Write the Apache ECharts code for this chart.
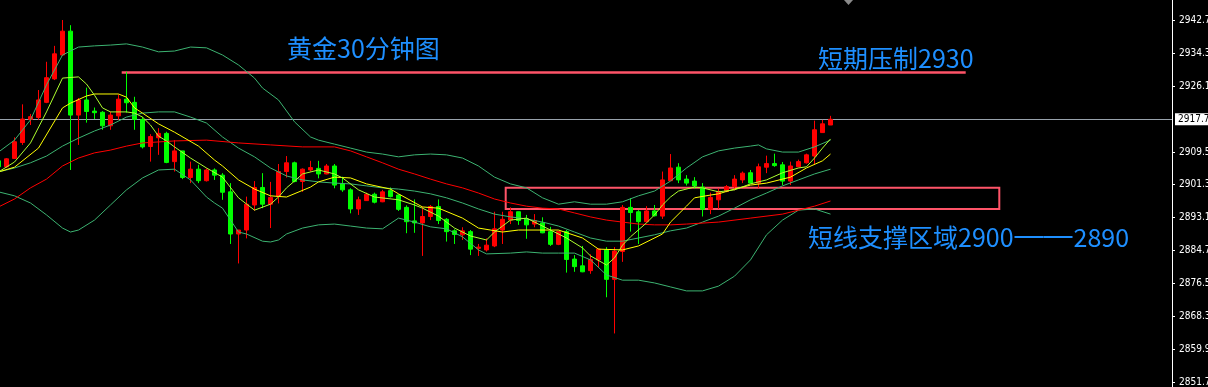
<!DOCTYPE html>
<html><head><meta charset="utf-8">
<script src="https://cdn.jsdelivr.net/npm/echarts@6/dist/echarts.min.js"></script>
<style>html,body{margin:0;padding:0;background:#000;overflow:hidden}#c{width:1208px;height:387px}</style>
</head><body><div id="c"></div>
<script>
// 30-minute gold candles: [open, close, low, high], bar index = position in array
const candles = [
[2907.3,2905.8,2905.5,2907.8],[2905.8,2907.8,2905.5,2908.0],[2907.9,2912.1,2907.8,2913.2],[2911.9,2917.8,2911.3,2921.5],
[2917.7,2918.4,2916.3,2919.1],[2918.2,2922.6,2917.6,2925.1],[2922.0,2928.2,2921.8,2932.2],[2927.9,2934.2,2927.6,2936.2],
[2933.9,2939.9,2933.7,2942.7],[2939.9,2918.8,2905.0,2941.4],[2918.8,2922.6,2911.3,2923.1],[2922.6,2919.7,2916.9,2925.7],
[2919.8,2919.4,2917.8,2920.7],[2919.5,2916.1,2915.1,2919.8],[2916.1,2918.8,2915.1,2919.7],[2918.6,2922.8,2917.6,2924.0],
[2922.8,2921.9,2919.4,2929.7],[2922.0,2917.7,2915.1,2923.4],[2917.7,2910.8,2910.4,2918.3],[2910.9,2913.4,2907.1,2914.0],
[2913.1,2914.2,2908.8,2915.5],[2914.2,2906.9,2906.7,2914.6],[2907.1,2909.8,2904.6,2912.5],[2909.8,2903.1,2902.7,2909.8],
[2903.1,2905.2,2901.7,2907.1],[2905.2,2902.3,2901.7,2906.3],[2902.3,2905.0,2902.1,2905.4],[2905.0,2903.7,2902.5,2905.4],
[2903.7,2899.4,2897.5,2904.2],[2899.5,2888.9,2886.4,2901.7],[2888.9,2889.9,2881.5,2889.9],[2889.9,2896.4,2887.8,2898.3],
[2896.2,2900.6,2894.7,2902.2],[2900.6,2896.4,2895.4,2904.2],[2896.4,2898.1,2890.4,2902.0],[2898.3,2904.6,2896.6,2906.5],
[2904.6,2906.8,2903.1,2908.5],[2906.8,2902.1,2901.9,2907.1],[2902.1,2905.2,2899.5,2905.4],[2905.0,2905.6,2904.6,2907.3],
[2905.4,2904.0,2902.9,2907.3],[2904.0,2906.0,2903.9,2906.5],[2906.0,2901.2,2900.4,2906.5],[2901.5,2900.0,2899.5,2903.3],
[2900.0,2895.2,2894.1,2900.4],[2895.2,2897.5,2893.7,2898.3],[2897.3,2898.9,2897.2,2899.3],[2898.9,2896.9,2896.6,2899.3],
[2897.0,2899.5,2896.9,2900.0],[2899.8,2898.3,2898.1,2900.6],[2898.7,2895.1,2894.7,2898.9],[2895.6,2892.0,2889.1,2896.1],
[2892.2,2891.7,2889.2,2897.6],[2891.7,2893.3,2883.4,2895.8],[2893.3,2895.8,2892.4,2896.2],[2895.8,2892.3,2891.4,2897.6],
[2892.6,2889.5,2887.0,2892.9],[2889.7,2888.8,2886.4,2890.1],[2888.7,2889.7,2887.4,2890.6],[2889.5,2885.1,2883.6,2889.9],
[2885.3,2885.6,2883.4,2886.4],[2884.9,2886.1,2884.5,2887.8],[2885.9,2890.2,2885.6,2894.5],[2889.9,2892.6,2886.4,2894.5],
[2892.4,2894.5,2891.4,2895.6],[2894.5,2892.3,2891.2,2894.5],[2892.7,2891.2,2887.7,2893.7],[2891.4,2892.3,2890.6,2893.9],
[2891.7,2889.2,2889.1,2893.1],[2889.5,2886.3,2885.9,2890.7],[2886.3,2889.5,2886.1,2889.7],[2889.5,2882.5,2879.2,2889.9],
[2882.6,2880.7,2879.4,2883.6],[2880.9,2879.4,2879.3,2885.9],[2879.7,2882.5,2878.9,2883.8],[2882.4,2885.1,2880.5,2885.3],
[2884.9,2877.5,2873.0,2885.6],[2877.5,2884.6,2863.9,2885.6],[2884.5,2895.6,2881.9,2896.2],[2895.6,2894.3,2889.5,2897.9],
[2894.5,2892.0,2886.4,2894.9],[2892.0,2894.7,2891.7,2895.9],[2894.7,2893.5,2893.3,2896.2],[2893.4,2902.5,2892.7,2904.6],
[2902.3,2905.5,2902.3,2909.0],[2905.7,2902.5,2901.7,2906.7],[2902.7,2901.7,2901.1,2903.7],[2902.2,2901.0,2900.3,2903.2],
[2900.7,2895.1,2893.3,2901.7],[2895.1,2898.1,2893.9,2899.3],[2897.5,2899.6,2895.2,2900.3],[2899.6,2900.8,2899.4,2901.2],
[2900.8,2902.7,2899.9,2903.7],[2902.5,2904.2,2901.7,2904.6],[2904.3,2901.7,2901.6,2905.0],[2901.7,2905.8,2900.4,2906.6],
[2905.7,2906.6,2904.2,2908.6],[2906.6,2906.1,2905.8,2909.1],[2906.3,2902.2,2901.2,2907.0],[2902.2,2906.0,2901.2,2907.1],
[2905.8,2907.1,2905.7,2907.6],[2906.8,2908.8,2906.6,2909.1],[2908.5,2915.1,2906.3,2917.4],[2914.4,2916.6,2914.3,2917.6],
[2916.3,2917.75,2916.3,2918.6]
];

// indicator lines: [bar index, price]
const maFast = [[0,2904.5],[2,2907.0],[4,2911.8],[6,2919.6],[8,2928.1],[10,2928.4],[11,2926.6],[12,2923.8],[13,2920.6],[14,2919.6],[16,2919.6],[17,2919.3],[18,2918.3],[19,2916.3],[20,2913.5],[21,2912.3],[22,2910.8],[24,2908.0],[26,2905.5],[28,2903.2],[30,2898.0],[32,2894.9],[34,2896.4],[35,2898.2],[36,2900.5],[37,2902.2],[38,2904.0],[40,2905.0],[42,2904.0],[43,2903.0],[45,2900.0],[47,2898.2],[50,2897.5],[52,2896.2],[53,2895.4],[55,2893.4],[57,2890.4],[59,2888.4],[61,2887.4],[62,2889.4],[63,2890.9],[64,2892.4],[66,2892.9],[67,2891.9],[69,2889.9],[71,2887.9],[73,2885.4],[74,2883.4],[76,2881.1],[77,2882.9],[78,2886.1],[79,2888.2],[81,2891.7],[82,2893.7],[83,2896.2],[84,2898.2],[85,2899.7],[87,2900.7],[88,2900.5],[90,2899.5],[92,2900.0],[94,2901.5],[96,2902.5],[98,2904.3],[100,2905.5],[101,2905.8],[102,2908.0],[103,2910.5],[104,2912.8]];
const maMid = [[0,2904.5],[2,2905.7],[5,2910.5],[8,2920.6],[9,2921.8],[11,2923.6],[12,2924.1],[15,2924.1],[16,2923.3],[17,2920.6],[18,2919.3],[20,2916.6],[22,2914.5],[25,2911.0],[27,2907.5],[28,2906.0],[30,2902.5],[32,2900.2],[34,2898.5],[36,2898.2],[39,2900.7],[40,2902.0],[42,2903.2],[44,2903.0],[46,2901.5],[49,2900.2],[50,2899.0],[53,2895.7],[55,2895.4],[58,2892.9],[60,2890.4],[63,2889.4],[65,2889.9],[70,2889.9],[73,2887.9],[75,2885.1],[78,2884.9],[80,2885.9],[83,2888.9],[84,2891.9],[86,2895.9],[87,2898.0],[89,2898.7],[90,2899.0],[92,2900.2],[94,2901.2],[96,2901.7],[99,2903.2],[101,2905.5],[103,2907.3],[104,2909.0]];
const maSlow = [[0,2895.7],[2,2897.7],[4,2900.5],[6,2902.7],[8,2906.0],[10,2908.0],[12,2909.3],[14,2910.0],[16,2911.0],[18,2911.8],[22,2912.3],[26,2912.5],[30,2911.8],[34,2911.3],[38,2910.8],[42,2910.8],[44,2909.8],[46,2908.3],[48,2906.8],[50,2905.2],[52,2904.0],[54,2902.7],[56,2901.5],[58,2900.5],[60,2899.2],[62,2897.7],[64,2896.7],[66,2895.9],[68,2895.4],[70,2895.2],[72,2894.2],[74,2893.2],[76,2892.4],[78,2891.9],[80,2891.4],[82,2891.2],[84,2891.2],[86,2891.4],[90,2891.9],[94,2892.9],[98,2893.9],[100,2894.9],[102,2895.9],[104,2897.2]];
const bollUpper = [[0,2909.5],[2,2912.5],[4,2917.6],[6,2926.4],[8,2933.9],[10,2935.9],[12,2936.2],[14,2936.4],[16,2936.7],[18,2935.9],[20,2934.7],[22,2934.9],[24,2935.9],[26,2935.7],[28,2933.9],[30,2931.4],[32,2928.1],[33,2925.6],[35,2922.6],[37,2917.1],[39,2913.3],[40,2912.5],[42,2911.5],[44,2910.5],[46,2909.5],[48,2909.0],[50,2908.3],[52,2908.8],[54,2909.0],[56,2908.8],[58,2908.0],[60,2906.0],[62,2903.2],[64,2901.5],[66,2900.5],[68,2898.0],[70,2896.4],[72,2897.0],[74,2896.4],[76,2896.4],[78,2897.0],[80,2898.5],[82,2899.7],[84,2902.2],[86,2905.5],[88,2908.3],[90,2909.8],[92,2910.5],[94,2911.0],[95,2911.3],[96,2910.3],[98,2909.5],[100,2909.5],[102,2910.8],[104,2912.5]];
const bollMid = [[0,2904.5],[2,2905.5],[4,2906.8],[6,2908.5],[8,2911.0],[10,2913.0],[12,2914.8],[14,2916.3],[16,2918.3],[18,2919.3],[20,2919.6],[22,2919.6],[24,2918.3],[26,2916.8],[28,2913.3],[30,2910.5],[32,2908.3],[34,2905.5],[36,2903.5],[38,2902.5],[40,2902.0],[42,2901.7],[44,2901.5],[46,2901.0],[48,2900.5],[50,2900.2],[52,2899.7],[54,2899.0],[56,2898.0],[58,2896.7],[60,2895.2],[62,2893.9],[64,2893.2],[66,2892.7],[68,2891.9],[70,2890.9],[72,2889.4],[74,2887.9],[76,2887.1],[78,2887.1],[80,2887.9],[82,2888.7],[84,2889.7],[86,2890.4],[88,2891.9],[90,2893.4],[92,2895.4],[94,2897.5],[96,2899.2],[98,2901.0],[100,2902.5],[102,2904.0],[104,2905.2]];
const bollLower = [[0,2899.5],[2,2898.5],[4,2896.7],[6,2893.7],[8,2890.4],[9,2889.4],[10,2889.9],[12,2892.4],[14,2896.2],[16,2900.0],[18,2903.0],[20,2905.0],[22,2905.2],[24,2902.5],[26,2898.2],[27,2896.7],[28,2895.4],[29,2892.4],[30,2889.4],[31,2888.9],[33,2887.1],[34,2886.9],[35,2887.4],[36,2888.9],[38,2890.4],[40,2891.2],[42,2891.4],[44,2890.9],[46,2890.4],[48,2890.2],[50,2892.9],[52,2891.9],[54,2890.7],[56,2890.2],[58,2888.2],[60,2884.9],[61,2883.9],[64,2884.1],[66,2884.4],[68,2884.1],[70,2884.1],[72,2884.1],[74,2882.4],[76,2878.6],[78,2877.3],[80,2877.3],[82,2876.6],[84,2875.6],[86,2874.6],[88,2874.6],[90,2875.8],[92,2878.3],[94,2882.4],[96,2888.7],[98,2892.4],[100,2894.9],[102,2895.2],[104,2893.9]];

// axis
const yTickLabels = [2942.70,2934.30,2926.10,2909.50,2901.30,2893.10,2884.70,2876.50,2868.30,2859.90,2851.70];
const yRange = [2850.44, 2947.73];
const xRange = [0.1875, 146.6875];
const lastPrice = 2917.75;

// annotations
const resistance = {price: 2929.5, from: 15.4, to: 120.9};
const supportZone = {top: 2900.5, bottom: 2895.2, from: 63.4, to: 125.1};
const texts = {title: '黄金30分钟图', resistance: '短期压制2930', supportA: '短线支撑区域2900', supportDash: '——', supportB: '2890'};

const pink = '#FF5468';
const blue = '#1E8FFF';
const cjk = '"Noto Sans CJK SC", sans-serif';
const axisFont = '"Liberation Sans Narrow", "DejaVu Sans Condensed", "Liberation Sans", Arial, sans-serif';
const dashFont = '"Liberation Sans", Arial, sans-serif';

function line(name, data, color) {
  return {name, type: 'line', data, showSymbol: false, symbol: 'none', z: 4,
    lineStyle: {color, width: 1}, itemStyle: {color}, silent: true};
}

const chart = echarts.init(document.getElementById('c'), null, {renderer: 'canvas'});
chart.setOption({
  backgroundColor: '#000',
  animation: false,
  grid: {left: 0, right: 36, top: 0, bottom: 0, containLabel: false, outerBoundsMode: 'none'},
  xAxis: {type: 'value', min: xRange[0], max: xRange[1], show: false, splitLine: {show: false}},
  yAxis: {
    type: 'value', position: 'right', min: yRange[0], max: yRange[1], scale: true,
    splitLine: {show: false},
    axisLine: {show: true, lineStyle: {color: '#ffffff', width: 1}},
    axisTick: {show: true, inside: false, length: 3, lineStyle: {color: '#ffffff'}, customValues: yTickLabels},
    axisLabel: {show: true, color: '#ffffff', fontSize: 10, fontFamily: axisFont,
      margin: 7, customValues: yTickLabels, formatter: v => v.toFixed(2), showMinLabel: true, showMaxLabel: true}
  },
  series: [
    {
      type: 'candlestick', z: 2,
      dimensions: ['idx', 'open', 'close', 'low', 'high'],
      encode: {x: 'idx', y: ['open', 'close', 'low', 'high']},
      data: candles.map((c, i) => [i, c[0], c[1], c[2], c[3]]),
      barWidth: 4,
      itemStyle: {color: '#FF0000', color0: '#00FF00', borderColor: '#FF0000', borderColor0: '#00FF00', borderWidth: 1},
      markLine: {
        silent: true, symbol: 'none', animation: false, z: 1,
        data: [
          {yAxis: lastPrice, lineStyle: {color: '#98A2AC', width: 1, type: 'solid'},
            label: {show: true, position: 'end', distance: 3, formatter: lastPrice.toFixed(2), color: '#000', backgroundColor: '#ffffff',
              fontSize: 10, fontFamily: axisFont, padding: [1, 3, 1, 3]}},
          [{coord: [resistance.from, resistance.price], lineStyle: {color: pink, width: 2.5, type: 'solid'}, label: {show: false}},
           {coord: [resistance.to, resistance.price]}]
        ]
      },
      markArea: {
        silent: true,
        itemStyle: {color: 'rgba(0,0,0,0)', borderColor: pink, borderWidth: 2},
        data: [[{coord: [supportZone.from, supportZone.top]}, {coord: [supportZone.to, supportZone.bottom]}]]
      }
    },
    line('bollUpper', bollUpper, '#3CB371'),
    line('bollMid', bollMid, '#3CB371'),
    line('bollLower', bollLower, '#3CB371'),
    line('maSlow', maSlow, '#FF0000'),
    line('maMid', maMid, '#FFFF00'),
    line('maFast', maFast, '#ADFF2F')
  ],
  graphic: [
    {type: 'text', x: 287, y: 48, z: 10, style: {text: texts.title, fill: blue, font: '25px ' + cjk, verticalAlign: 'middle'}},
    {type: 'text', x: 818, y: 58, z: 10, style: {text: texts.resistance, fill: blue, font: '25px ' + cjk, verticalAlign: 'middle'}},
    {type: 'text', x: 808, y: 237, z: 10, style: {
      text: '{a|' + texts.supportA + '}{d|' + texts.supportDash + '}{a|' + texts.supportB + '}',
      verticalAlign: 'middle',
      rich: {
        a: {fill: blue, font: '25px ' + cjk, verticalAlign: 'middle'},
        d: {fill: blue, font: '29px ' + dashFont, verticalAlign: 'middle', padding: [0, 1, 0, 1]}
      }
    }},
    {type: 'polygon', z: 10, shape: {points: [[844, 0], [853, 0], [848.5, 5]]}, style: {fill: '#8A8A8A'}}
  ]
});
</script>
</body></html>
